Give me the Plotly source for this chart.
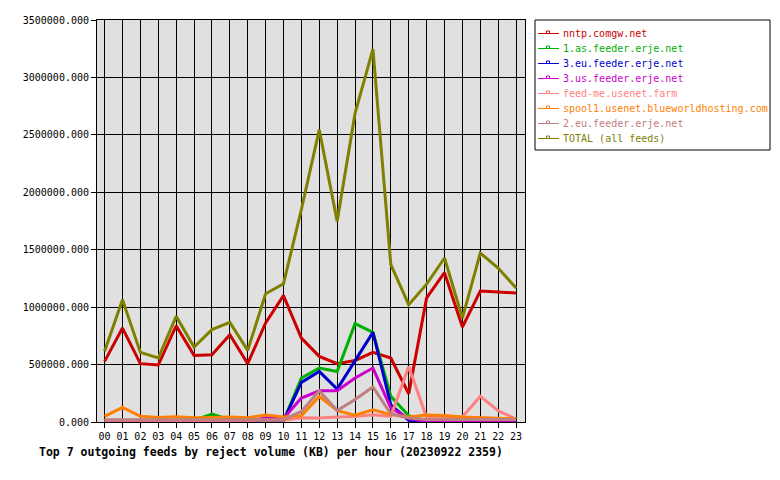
import plotly.graph_objects as go

hours = [f"{h:02d}" for h in range(24)]

nntp_comgw = [528000, 818000, 508000, 496000, 838000, 580000, 586000, 760000, 508000, 862000,
              1100000, 731000, 571000, 508000, 536000, 606000, 557000, 246000, 1080000, 1300000,
              827000, 1140000, 1132000, 1123000]
as1_feeder = [10000, 10000, 10000, 10000, 10000, 15000, 70000, 20000, 15000, 15000,
              10000, 383000, 470000, 440000, 856000, 780000, 223000, 55000, 5000, 5000,
              5000, 5000, 5000, 5000]
eu3_feeder = [5000, 5000, 5000, 5000, 5000, 5000, 5000, 5000, 5000, 5000,
              10000, 345000, 440000, 287000, 528000, 780000, 150000, 15000, 3000, 3000,
              3000, 3000, 3000, 3000]
us3_feeder = [5000, 5000, 5000, 5000, 5000, 5000, 5000, 5000, 5000, 35000,
              30000, 209000, 272000, 272000, 383000, 470000, 122000, 30000, 5000, 5000,
              5000, 5000, 5000, 5000]
feed_me = [15000, 15000, 15000, 15000, 15000, 15000, 15000, 15000, 15000, 15000,
           15000, 37000, 35000, 44000, 47000, 64000, 49000, 484000, 40000, 40000,
           43000, 223000, 98000, 26000]
spool1 = [49000, 127000, 49000, 40000, 45000, 38000, 40000, 43000, 38000, 60000,
          43000, 55000, 223000, 98000, 60000, 107000, 64000, 43000, 60000, 57000,
          43000, 35000, 32000, 26000]
eu2_feeder = [20000, 20000, 20000, 20000, 20000, 20000, 20000, 20000, 20000, 20000,
              20000, 92000, 272000, 100000, 195000, 305000, 70000, 35000, 22000, 22000,
              22000, 22000, 22000, 22000]
total = [615000, 1065000, 606000, 557000, 920000, 653000, 804000, 867000, 624000, 1117000,
         1204000, 1850000, 2545000, 1747000, 2687000, 3247000, 1370000, 1021000, 1200000, 1428000,
         905000, 1471000, 1341000, 1167000]

names = ["nntp.comgw.net", "1.as.feeder.erje.net", "3.eu.feeder.erje.net", "3.us.feeder.erje.net",
         "feed-me.usenet.farm", "spool1.usenet.blueworldhosting.com", "2.eu.feeder.erje.net",
         "TOTAL (all feeds)"]
series = [nntp_comgw, as1_feeder, eu3_feeder, us3_feeder, feed_me, spool1, eu2_feeder, total]
colors = ["#cc0000", "#00b000", "#0000cc", "#cc00cc", "#ff8080", "#ff8000", "#c08080", "#808000"]

title = "Top 7 outgoing feeds by reject volume (KB) per hour (20230922 2359)"

W, H = 780, 480
L, R, T, B = 97, 525, 20, 422
MONO = "DejaVu Sans Mono"

def px(x):
    return (x - L) / (R - L)

def py(y):
    return (B - y) / (B - T)

fig = go.Figure()
for name, vals, col in zip(names, series, colors):
    fig.add_trace(go.Scatter(x=hours, y=vals, name=name, mode="lines",
                             line=dict(color=col, width=3), showlegend=False))

shapes = []
annotations = []
# legend box
shapes.append(dict(type="rect", xref="paper", yref="paper", x0=px(535), x1=px(770),
                   y0=py(20), y1=py(150), line=dict(color="black", width=1),
                   fillcolor="white", layer="above"))
for i, (name, col) in enumerate(zip(names, colors)):
    yy = 33.5 + 15 * i
    shapes.append(dict(type="line", xref="paper", yref="paper", x0=px(538), x1=px(559),
                       y0=py(yy), y1=py(yy), line=dict(color=col, width=1)))
    shapes.append(dict(type="rect", xref="paper", yref="paper", x0=px(546.5), x1=px(549.5),
                       y0=py(yy), y1=py(yy - 2.5), line=dict(color=col, width=1)))
    annotations.append(dict(text=name, xref="paper", yref="paper", x=px(561), y=py(yy),
                            xanchor="left", yanchor="middle", showarrow=False,
                            font=dict(family=MONO, size=10, color=col)))

annotations.append(dict(text="<b>" + title + "</b>", xref="paper", yref="paper",
                        x=px(271), y=py(452), xanchor="center", yanchor="middle",
                        showarrow=False, font=dict(family=MONO, size=11.5, color="black")))

fig.update_layout(
    width=W, height=H,
    margin=dict(l=L, r=W - R, t=T, b=H - B, pad=0),
    paper_bgcolor="white", plot_bgcolor="#e0e0e0",
    shapes=shapes, annotations=annotations,
    showlegend=False,
    font=dict(family=MONO, size=10, color="black"),
)
fig.update_xaxes(type="category", range=[-0.425, 23.5], showgrid=True, gridcolor="black",
                 gridwidth=1, showline=True, linecolor="black", linewidth=1, mirror=True,
                 ticks="outside", ticklen=5, tickcolor="black", tickfont=dict(family=MONO, size=10),
                 zeroline=False)
fig.update_yaxes(range=[0, 3500000], dtick=500000, tick0=0, tickformat=".3f",
                 showgrid=True, gridcolor="black", gridwidth=1, showline=True,
                 linecolor="black", linewidth=1, mirror=True, ticks="outside", ticklen=5,
                 tickcolor="black", tickfont=dict(family=MONO, size=10), zeroline=False)

fig.write_html("out.html")
